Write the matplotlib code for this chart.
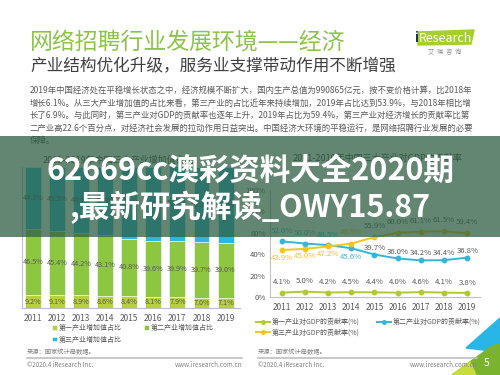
import matplotlib
matplotlib.use("Agg")
import matplotlib.pyplot as plt
import numpy as np
from matplotlib.patches import Polygon, Rectangle

plt.rcParams['font.family'] = ['Noto Sans CJK SC', 'DejaVu Sans']

years = ['2011', '2012', '2013', '2014', '2015', '2016', '2017', '2018', '2019']

# 三大产业增加值占比 (%)
share_primary = [9.2, 9.1, 8.9, 8.6, 8.4, 8.1, 7.9, 7.0, 7.1]
share_secondary = [46.5, 45.4, 44.2, 43.1, 40.8, 39.6, 39.9, 39.7, 39.0]
share_tertiary = [44.3, 45.5, 46.9, 48.3, 50.8, 52.4, 52.7, 53.3, 53.9]

# 三大产业对GDP的贡献率 (%)
contrib_primary = [4.1, 5.0, 4.2, 4.5, 4.4, 4.0, 4.6, 4.1, 3.8]
contrib_secondary = [52.0, 50.0, 48.5, 45.6, 39.7, 36.0, 34.2, 34.4, 36.8]
contrib_tertiary = [43.9, 45.0, 47.2, 49.9, 55.9, 60.0, 61.1, 61.5, 59.4]

title = "网络招聘行业发展环境——经济"
subtitle = "产业结构优化升级，服务业支撑带动作用不断增强"
paragraph = [
    "2019年中国经济处在平稳增长状态之中，经济规模不断扩大，国内生产总值为990865亿元，按不变价格计算，比2018年",
    "增长6.1%。从三大产业增加值的占比来看，第三产业的占比近年来持续增加，2019年占比达到53.9%，与2018年相比增",
    "长了6.9%。与此同时，第三产业对GDP的贡献率也逐年上升，2019年占比为59.4%，第三产业对经济增长的贡献率比第",
    "二产业高22.6个百分点，对经济社会发展的拉动作用日益突出。中国经济大环境的平稳运行，是网络招聘行业发展的必要",
    "保障。",
]
banner = ["62669cc澳彩资料大全2020期", ",最新研究解读_OWY15.87"]

GREEN1 = '#b7d03b'
GREEN2 = '#8dc641'
BLUE = '#2bb5e3'
YELLOW = '#f5c61a'
LIME = '#b3c934'
GRAY = '#595959'

W, H = 500, 375
fig = plt.figure(figsize=(5, 3.75), dpi=100)


def px_axes(x0, y0, x1, y1, z):
    ax = fig.add_axes([x0 / W, 1 - y1 / H, (x1 - x0) / W, (y1 - y0) / H])
    ax.set_zorder(z)
    ax.patch.set_alpha(0)
    return ax


# background layer in pixel coordinates
bg = px_axes(0, 0, W, H, 0)
bg.set_xlim(0, W)
bg.set_ylim(H, 0)
bg.axis('off')

bg.text(30, 42, title, fontsize=16.5, color='#8dc447', va='center')
bg.text(30, 67, subtitle, fontsize=12, color='#3f3f3f', va='center')
for i, line in enumerate(paragraph):
    bg.text(30, 90.5 + i * 12.6, line, fontsize=6.05, color=GRAY, va='center')

# logo
bg.add_patch(Polygon([(418, 32), (474, 30), (471, 44), (418, 45)], closed=True, color='#a5cf2a'))
bg.text(414, 38.5, "i", fontsize=9.5, color='#1d2f5e', va='center', fontweight='bold')
bg.text(419, 38.5, "Research", fontsize=9, color='white', va='center')
bg.text(445, 52, "艾  瑞  咨  询", fontsize=4.5, color='#8c8c8c', va='center', ha='center')

# chart titles
bg.text(43, 160, "2011-2019年中国三大产业增加值占比", fontsize=6.5, color='#404040', va='center')
bg.text(462, 158, "2011-2019年中国三大产业对GDP的贡献率", fontsize=6.5, color='#404040', va='center', ha='right')

# footers
for x0, x1 in [(27, 242), (258, 477)]:
    bg.text(x0, 352, "来源：国家统计局数据。", fontsize=4.5, color='#7f7f7f', va='center')
    bg.plot([x0, x1], [358, 358], color='#bfbfbf', lw=1.2)
    bg.text(x0, 365, "©2020.4 iResearch Inc.", fontsize=4.5, color='#7f7f7f', va='center')
    bg.text(x1, 365, "www.iresearch.com.cn", fontsize=4.5, color='#7f7f7f', va='center', ha='right')

# corner decoration
bg.add_patch(Polygon([(466, 348), (500, 318), (500, 352)], closed=True, color='#29b6e6'))
bg.add_patch(Polygon([(452, 375), (492, 346), (500, 344), (500, 375)], closed=True, color='#7ab42e'))
bg.add_patch(Polygon([(452, 375), (470, 362), (476, 375)], closed=True, color='#c8dc3c'))
bg.text(487, 363, "5", fontsize=7.5, color='white', va='center', ha='center')

# left chart: stacked bars
x = np.arange(len(years))
ax1 = px_axes(22, 167, 240, 308, 1)
b1 = ax1.bar(x, share_primary, width=0.66, color=GREEN1, edgecolor='white', lw=0.4)
b2 = ax1.bar(x, share_secondary, width=0.66, bottom=share_primary, color=GREEN2, edgecolor='white', lw=0.4)
bottom3 = np.array(share_primary) + np.array(share_secondary)
b3 = ax1.bar(x, share_tertiary, width=0.66, bottom=bottom3, color=BLUE, edgecolor='white', lw=0.4)
for i in range(len(years)):
    ax1.text(x[i], share_primary[i] / 2, f"{share_primary[i]:.1f}%", fontsize=5.2, color=GRAY, ha='center', va='center')
    ax1.text(x[i], share_primary[i] + share_secondary[i] / 2, f"{share_secondary[i]:.1f}%", fontsize=5.2, color=GRAY, ha='center', va='center')
    ax1.text(x[i], bottom3[i] + share_tertiary[i] / 2, f"{share_tertiary[i]:.1f}%", fontsize=5.2, color=GRAY, ha='center', va='center')
ax1.set_xlim(-0.46, 8.6)
ax1.set_ylim(0, 100)
ax1.set_xticks(x)
ax1.set_xticklabels(years, fontsize=6, color=GRAY)
ax1.set_yticks([])
ax1.tick_params(axis='x', length=0, pad=4)
for s in ['top', 'right']:
    ax1.spines[s].set_visible(False)
for s in ['left', 'bottom']:
    ax1.spines[s].set_color('#bfbfbf')
    ax1.spines[s].set_linewidth(0.8)

fig.legend([b1, b3, b2], ["第一产业增加值占比", "第三产业增加值占比", "第二产业增加值占比"],
           loc='upper left', bbox_to_anchor=(52 / W, 1 - 324 / H), ncol=2, frameon=False,
           fontsize=5, labelcolor=GRAY, handlelength=0.7, handleheight=0.7, handletextpad=0.3,
           columnspacing=3.2, labelspacing=0.5, borderaxespad=0, borderpad=0)

# right chart: lines
ax2 = px_axes(270, 190, 480, 297, 1)
l1, = ax2.plot(x, contrib_primary, color=LIME, lw=1.4, marker='o', ms=3.2)
l2, = ax2.plot(x, contrib_secondary, color='#35b5d9', lw=1.4, marker='o', ms=3.2)
l3, = ax2.plot(x, contrib_tertiary, color=YELLOW, lw=1.4, marker='o', ms=3.2)
for i in range(len(years)):
    ax2.annotate(f"{contrib_primary[i]:.1f}%", (x[i], contrib_primary[i]), xytext=(0, 7.5),
                 textcoords='offset points', fontsize=5.6, color=GRAY, ha='center', va='center')
    close = abs(contrib_secondary[i] - contrib_tertiary[i]) < 10
    s_up = contrib_secondary[i] > contrib_tertiary[i] or not close
    ax2.annotate(f"{contrib_secondary[i]:.1f}%", (x[i], contrib_secondary[i]),
                 xytext=(0, (7.5 if close else 5) if s_up else -6.5), textcoords='offset points',
                 fontsize=5.6, color='#35b5d9' if close else GRAY, ha='center', va='center')
    t_up = contrib_tertiary[i] > contrib_secondary[i]
    ax2.annotate(f"{contrib_tertiary[i]:.1f}%", (x[i], contrib_tertiary[i]),
                 xytext=(0, 8 if t_up else -5.5), textcoords='offset points',
                 fontsize=5.6, color=YELLOW if close else GRAY, ha='center', va='center')
ax2.set_xlim(-0.5, 8.55)
ax2.set_ylim(0, 100)
ax2.set_xticks(x)
ax2.set_xticklabels(years, fontsize=6, color=GRAY)
ax2.set_yticks(np.arange(0, 101, 20))
ax2.set_yticklabels([f"{v}%" for v in range(0, 101, 20)], fontsize=5.6, color=GRAY)
ax2.tick_params(length=0, pad=4)
ax2.tick_params(axis='y', pad=3)
for s in ['top', 'right']:
    ax2.spines[s].set_visible(False)
for s in ['left', 'bottom']:
    ax2.spines[s].set_color('#bfbfbf')
    ax2.spines[s].set_linewidth(0.8)

fig.legend([l1, l3, l2], ["第一产业对GDP的贡献率(%)", "第三产业对GDP的贡献率(%)", "第二产业对GDP的贡献率(%)"],
           loc='upper left', bbox_to_anchor=(256 / W, 1 - 318 / H), ncol=2, frameon=False,
           fontsize=5, labelcolor=GRAY, handlelength=2.0, handletextpad=0.3,
           columnspacing=2.5, labelspacing=0.35, borderaxespad=0, borderpad=0, markerscale=0.8)

# banner overlay
top = px_axes(0, 0, W, H, 3)
top.set_xlim(0, W)
top.set_ylim(H, 0)
top.axis('off')
top.add_patch(Rectangle((0, 136), W, 101, color='#2e5e42', alpha=0.75, lw=0))
top.text(250, 171, banner[0], fontsize=22, color='white', fontweight='bold', ha='center', va='center')
top.text(250, 208, banner[1], fontsize=22, color='white', fontweight='bold', ha='center', va='center')

fig.savefig("out.png", dpi=100)
